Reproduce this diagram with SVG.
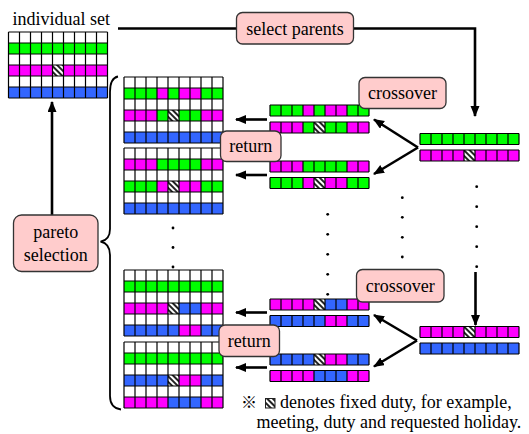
<svg xmlns="http://www.w3.org/2000/svg" width="529" height="434" viewBox="0 0 529 434">
<defs>
<pattern id="hatch" patternUnits="userSpaceOnUse" width="4" height="4" patternTransform="rotate(45)">
<rect width="4" height="4" fill="#fff"/><rect width="4" height="2" fill="#222"/>
</pattern>
<marker id="ah" markerUnits="userSpaceOnUse" markerWidth="12" markerHeight="10" refX="10" refY="4.5" orient="auto">
<path d="M0,0L11,4.5L0,9z" fill="#000" stroke="none"/>
</marker>
<path id="gl" fill="none" stroke="#000" stroke-width="1.2" d="M0,0H99M0,11H99M0,22H99M0,33H99M0,44H99M0,55H99M0,66H99M0,0V66M11,0V66M22,0V66M33,0V66M44,0V66M55,0V66M66,0V66M77,0V66M88,0V66M99,0V66"/>
<path id="sl" fill="none" stroke="#000" stroke-width="1.2" d="M0,0H99M0,11H99M0,0V11M11,0V11M22,0V11M33,0V11M44,0V11M55,0V11M66,0V11M77,0V11M88,0V11M99,0V11"/>
</defs>
<rect width="529" height="434" fill="#fff"/>

<g id="connectors">
<g fill="none" stroke="#000" stroke-width="2.6" marker-end="url(#ah)">
<path d="M118,28.5H475V116"/>
<path d="M475.5,272V325"/>
<path d="M52,215V102"/>
<path d="M267,119.5H236"/>
<path d="M267,175H236"/>
<path d="M267,312.5H236"/>
<path d="M267,367.5H236"/>
<path d="M418,147.5L374,119.5"/>
<path d="M418,147.5L374,174"/>
<path d="M417,340.5L374,315"/>
<path d="M417,340.5L374,366.5"/>
</g>
<path fill="none" stroke="#000" stroke-width="1.8" d="M118,76.5Q110,78 110,92V229Q110,240 100.5,241.7Q110,243.5 110,255V396Q110,408 121,409.5"/>
<g fill="#000">
<circle cx="173" cy="228" r="1.4"/><circle cx="173" cy="247.5" r="1.4"/><circle cx="173" cy="267" r="1.4"/>
<circle cx="327.7" cy="214.3" r="1.4"/><circle cx="327.7" cy="234.3" r="1.4"/><circle cx="327.7" cy="254.3" r="1.4"/><circle cx="327.7" cy="274.3" r="1.4"/><circle cx="327.7" cy="294.3" r="1.4"/>
<circle cx="402.3" cy="197.7" r="1.4"/><circle cx="402.3" cy="217.3" r="1.4"/><circle cx="402.3" cy="237.3" r="1.4"/><circle cx="402.3" cy="257" r="1.4"/>
<circle cx="476.7" cy="186.7" r="1.4"/><circle cx="476.7" cy="206.7" r="1.4"/><circle cx="476.7" cy="226.7" r="1.4"/><circle cx="476.7" cy="246.7" r="1.4"/><circle cx="476.7" cy="266.7" r="1.4"/>
</g>
</g>

<g id="individual-set">
<text x="12.5" y="24.5" font-family="Liberation Serif" font-size="18">individual set</text>
<g transform="translate(8.5,32)">
<rect fill="#fff" width="99" height="66"/>
<rect fill="#00ff00" y="11" width="99" height="11"/>
<rect fill="#ff00ff" y="33" width="44" height="11"/><rect fill="url(#hatch)" x="44" y="33" width="11" height="11"/><rect fill="#ff00ff" x="55" y="33" width="44" height="11"/>
<rect fill="#3366ff" y="55" width="99" height="11"/>
<use href="#gl"/>
</g>
</g>

<g id="grid1" transform="translate(124,77)">
<rect fill="#fff" width="99" height="66"/>
<rect fill="#00ff00" y="11" width="33" height="11"/><rect fill="#ff00ff" x="33" y="11" width="11" height="11"/><rect fill="#00ff00" x="44" y="11" width="11" height="11"/><rect fill="#ff00ff" x="55" y="11" width="22" height="11"/><rect fill="#00ff00" x="77" y="11" width="22" height="11"/>
<rect fill="#ff00ff" y="33" width="33" height="11"/><rect fill="#00ff00" x="33" y="33" width="11" height="11"/><rect fill="url(#hatch)" x="44" y="33" width="11" height="11"/><rect fill="#00ff00" x="55" y="33" width="22" height="11"/><rect fill="#ff00ff" x="77" y="33" width="22" height="11"/>
<rect fill="#3366ff" y="55" width="99" height="11"/>
<use href="#gl"/>
</g>
<g id="grid2" transform="translate(124,148)">
<rect fill="#fff" width="99" height="66"/>
<rect fill="#ff00ff" y="11" width="33" height="11"/><rect fill="#00ff00" x="33" y="11" width="44" height="11"/><rect fill="#ff00ff" x="77" y="11" width="22" height="11"/>
<rect fill="#00ff00" y="33" width="33" height="11"/><rect fill="#ff00ff" x="33" y="33" width="11" height="11"/><rect fill="url(#hatch)" x="44" y="33" width="11" height="11"/><rect fill="#ff00ff" x="55" y="33" width="22" height="11"/><rect fill="#00ff00" x="77" y="33" width="22" height="11"/>
<rect fill="#3366ff" y="55" width="99" height="11"/>
<use href="#gl"/>
</g>
<g id="grid3" transform="translate(124,270)">
<rect fill="#fff" width="99" height="66"/>
<rect fill="#00ff00" y="11" width="99" height="11"/>
<rect fill="#ff00ff" y="33" width="44" height="11"/><rect fill="url(#hatch)" x="44" y="33" width="11" height="11"/><rect fill="#3366ff" x="55" y="33" width="22" height="11"/><rect fill="#ff00ff" x="77" y="33" width="22" height="11"/>
<rect fill="#3366ff" y="55" width="55" height="11"/><rect fill="#ff00ff" x="55" y="55" width="22" height="11"/><rect fill="#3366ff" x="77" y="55" width="22" height="11"/>
<use href="#gl"/>
</g>
<g id="grid4" transform="translate(124,342)">
<rect fill="#fff" width="99" height="66"/>
<rect fill="#00ff00" y="11" width="99" height="11"/>
<rect fill="#3366ff" y="33" width="44" height="11"/><rect fill="url(#hatch)" x="44" y="33" width="11" height="11"/><rect fill="#ff00ff" x="55" y="33" width="22" height="11"/><rect fill="#3366ff" x="77" y="33" width="22" height="11"/>
<rect fill="#ff00ff" y="55" width="44" height="11"/><rect fill="#3366ff" x="44" y="55" width="33" height="11"/><rect fill="#ff00ff" x="77" y="55" width="22" height="11"/>
<use href="#gl"/>
</g>

<g id="child1a" transform="translate(270,105)">
<rect fill="#00ff00" width="33" height="11"/><rect fill="#ff00ff" x="33" width="11" height="11"/><rect fill="#00ff00" x="44" width="11" height="11"/><rect fill="#ff00ff" x="55" width="22" height="11"/><rect fill="#00ff00" x="77" width="22" height="11"/>
<use href="#sl"/>
</g>
<g id="child1b" transform="translate(270,122)">
<rect fill="#ff00ff" width="33" height="11"/><rect fill="#00ff00" x="33" width="11" height="11"/><rect fill="url(#hatch)" x="44" width="11" height="11"/><rect fill="#00ff00" x="55" width="22" height="11"/><rect fill="#ff00ff" x="77" width="22" height="11"/>
<use href="#sl"/>
</g>
<g id="child2a" transform="translate(270,161)">
<rect fill="#ff00ff" width="33" height="11"/><rect fill="#00ff00" x="33" width="44" height="11"/><rect fill="#ff00ff" x="77" width="22" height="11"/>
<use href="#sl"/>
</g>
<g id="child2b" transform="translate(270,177.5)">
<rect fill="#00ff00" width="33" height="11"/><rect fill="#ff00ff" x="33" width="11" height="11"/><rect fill="url(#hatch)" x="44" width="11" height="11"/><rect fill="#ff00ff" x="55" width="22" height="11"/><rect fill="#00ff00" x="77" width="22" height="11"/>
<use href="#sl"/>
</g>
<g id="child3a" transform="translate(270,299)">
<rect fill="#ff00ff" width="44" height="11"/><rect fill="url(#hatch)" x="44" width="11" height="11"/><rect fill="#3366ff" x="55" width="22" height="11"/><rect fill="#ff00ff" x="77" width="22" height="11"/>
<use href="#sl"/>
</g>
<g id="child3b" transform="translate(270,315.5)">
<rect fill="#3366ff" width="55" height="11"/><rect fill="#ff00ff" x="55" width="22" height="11"/><rect fill="#3366ff" x="77" width="22" height="11"/>
<use href="#sl"/>
</g>
<g id="child4a" transform="translate(270,354)">
<rect fill="#3366ff" width="44" height="11"/><rect fill="url(#hatch)" x="44" width="11" height="11"/><rect fill="#ff00ff" x="55" width="22" height="11"/><rect fill="#3366ff" x="77" width="22" height="11"/>
<use href="#sl"/>
</g>
<g id="child4b" transform="translate(270,370.5)">
<rect fill="#ff00ff" width="44" height="11"/><rect fill="#3366ff" x="44" width="33" height="11"/><rect fill="#ff00ff" x="77" width="22" height="11"/>
<use href="#sl"/>
</g>

<g id="parent1a" transform="translate(420,133.5)">
<rect fill="#00ff00" width="99" height="11"/>
<use href="#sl"/>
</g>
<g id="parent1b" transform="translate(420,150)">
<rect fill="#ff00ff" width="44" height="11"/><rect fill="url(#hatch)" x="44" width="11" height="11"/><rect fill="#ff00ff" x="55" width="44" height="11"/>
<use href="#sl"/>
</g>
<g id="parent2a" transform="translate(420,326.5)">
<rect fill="#ff00ff" width="44" height="11"/><rect fill="url(#hatch)" x="44" width="11" height="11"/><rect fill="#ff00ff" x="55" width="44" height="11"/>
<use href="#sl"/>
</g>
<g id="parent2b" transform="translate(420,343)">
<rect fill="#3366ff" width="99" height="11"/>
<use href="#sl"/>
</g>

<g id="select-parents">
<rect fill="#ffcccc" stroke="#333" stroke-width="1.3" x="236.5" y="12.5" width="117" height="31.5" rx="6"/>
<text x="295" y="34.5" text-anchor="middle" font-family="Liberation Serif" font-size="18">select parents</text>
</g>
<g id="crossover1">
<rect fill="#ffcccc" stroke="#333" stroke-width="1.3" x="359" y="77.5" width="87" height="31" rx="6"/>
<text x="402.5" y="99" text-anchor="middle" font-family="Liberation Serif" font-size="18">crossover</text>
</g>
<g id="return1">
<rect fill="#ffcccc" stroke="#333" stroke-width="1.3" x="220.5" y="131" width="60.5" height="30.5" rx="6"/>
<text x="250.7" y="152" text-anchor="middle" font-family="Liberation Serif" font-size="18">return</text>
</g>
<g id="crossover2">
<rect fill="#ffcccc" stroke="#333" stroke-width="1.3" x="356.5" y="269.5" width="87.5" height="32.5" rx="6"/>
<text x="400.2" y="292" text-anchor="middle" font-family="Liberation Serif" font-size="18">crossover</text>
</g>
<g id="return2">
<rect fill="#ffcccc" stroke="#333" stroke-width="1.3" x="219" y="325" width="60.5" height="31.5" rx="6"/>
<text x="249.2" y="346.5" text-anchor="middle" font-family="Liberation Serif" font-size="18">return</text>
</g>
<g id="pareto-selection">
<rect fill="#ffcccc" stroke="#333" stroke-width="1.3" x="13.5" y="215" width="84.5" height="56.5" rx="8"/>
<text x="55.7" y="238" text-anchor="middle" font-family="Liberation Serif" font-size="18">pareto</text>
<text x="55.7" y="261" text-anchor="middle" font-family="Liberation Serif" font-size="18">selection</text>
</g>

<g id="footnote">
<text x="241" y="408" font-family="Noto Sans CJK JP" font-size="16">※</text>
<rect x="265.5" y="398.5" width="9.5" height="9.5" fill="url(#hatch)" stroke="#222" stroke-width="1"/>
<text x="280" y="408" font-family="Liberation Serif" font-size="18">denotes fixed duty, for example,</text>
<text x="256.5" y="428" font-family="Liberation Serif" font-size="18">meeting, duty and requested holiday.</text>
</g>
</svg>
